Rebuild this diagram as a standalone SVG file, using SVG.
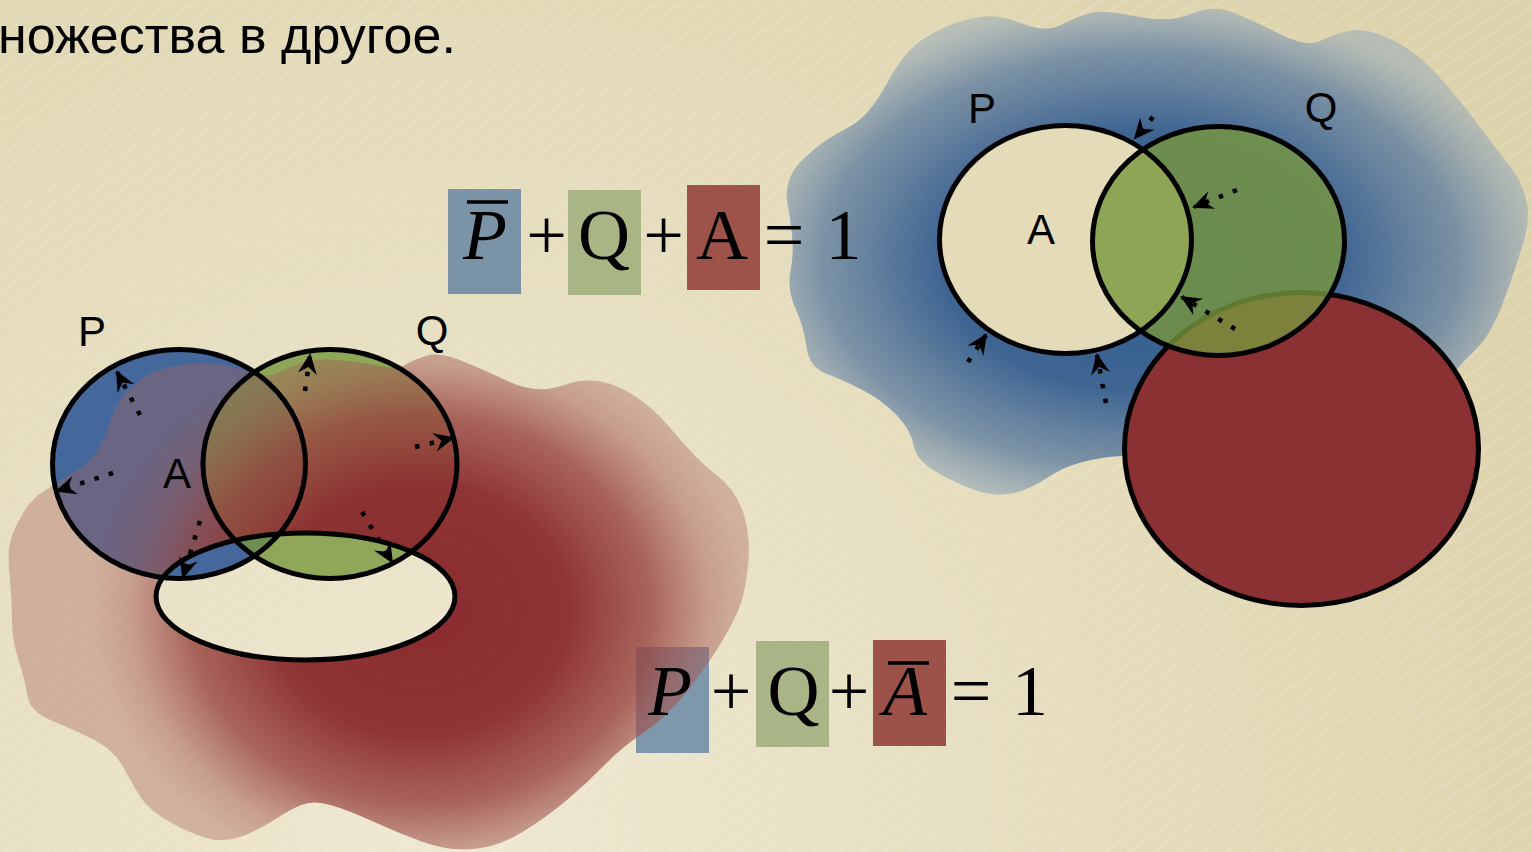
<svg xmlns="http://www.w3.org/2000/svg" width="1532" height="852" viewBox="0 0 1532 852">
  <defs>
    <style>
      .outline { fill: none; stroke: #000; stroke-width: 5; }
      .dots { fill: none; stroke: #000; stroke-width: 4.5; stroke-dasharray: 4.5 10.5; }
      .lbl { font-family: "Liberation Sans", Arial, sans-serif; font-size: 42px; fill: #000; text-anchor: middle; }
      .math { font-family: "Liberation Serif", "Times New Roman", serif; font-size: 72px; fill: #000; text-anchor: middle; }
      .it { font-style: italic; }
      .bar { stroke: #000; stroke-width: 3.5; }
      .green { fill: #78973d; fill-opacity: 0.8; }
    </style>
    <radialGradient id="bgGrad" gradientUnits="userSpaceOnUse" cx="450" cy="820" r="1250">
      <stop offset="0" stop-color="#eee8d2"/>
      <stop offset="0.5" stop-color="#e5ddbd"/>
      <stop offset="1" stop-color="#dcd2ab"/>
    </radialGradient>
    <pattern id="streaks" patternUnits="userSpaceOnUse" width="14" height="14" patternTransform="rotate(-35)">
      <rect x="0" y="0" width="14" height="3" fill="#ffffff" fill-opacity="0.10"/>
    </pattern>
    <radialGradient id="redGrad" gradientUnits="userSpaceOnUse" cx="0" cy="0" r="1" gradientTransform="translate(420 610) scale(330 280)">
      <stop offset="0" stop-color="#8a2b2e" stop-opacity="1"/>
      <stop offset="0.45" stop-color="#8c2f31" stop-opacity="0.97"/>
      <stop offset="0.7" stop-color="#98443f" stop-opacity="0.8"/>
      <stop offset="0.88" stop-color="#a45a54" stop-opacity="0.5"/>
      <stop offset="1" stop-color="#a8615b" stop-opacity="0.38"/>
    </radialGradient>
    <radialGradient id="blueGrad" gradientUnits="userSpaceOnUse" cx="0" cy="0" r="1" gradientTransform="translate(1140 260) scale(400 260)">
      <stop offset="0" stop-color="#2f5b92" stop-opacity="1"/>
      <stop offset="0.5" stop-color="#365f90" stop-opacity="0.95"/>
      <stop offset="0.8" stop-color="#5a7a9e" stop-opacity="0.75"/>
      <stop offset="1" stop-color="#98abba" stop-opacity="0.55"/>
    </radialGradient>
    <mask id="holeMask" maskUnits="userSpaceOnUse" x="0" y="0" width="1532" height="852">
      <rect x="0" y="0" width="1532" height="852" fill="#fff"/>
      <ellipse cx="305.5" cy="596.5" rx="149.5" ry="63.5" fill="#000"/>
    </mask>
    <marker id="ah" viewBox="-22 -11 25 22" refX="0" refY="0" markerWidth="25" markerHeight="22" markerUnits="userSpaceOnUse" orient="auto">
      <path d="M2,0 L-19,-9.5 L-12,0 L-19,9.5 Z" fill="#000"/>
    </marker>
  </defs>

  <!-- background -->
  <rect x="0" y="0" width="1532" height="852" fill="url(#bgGrad)"/>
  <rect x="0" y="0" width="1532" height="852" fill="url(#streaks)"/>

  <text x="-2" y="53" font-family="'Liberation Sans', Arial, sans-serif" font-size="52" fill="#000">ножества в другое.</text>

  <!-- bottom formula boxes (under the red area) -->
  <g id="formula-bottom-boxes">
    <rect x="636" y="647" width="73" height="106" fill="#7f97aa"/>
    <rect x="756" y="641" width="73" height="106" fill="#a9b586"/>
    <rect x="873" y="640" width="73" height="106" fill="#9c5149"/>
  </g>

  <!-- left diagram -->
  <g id="left-diagram">
    <g id="left-P-fill"><ellipse cx="179" cy="464" rx="126.5" ry="114.5" fill="#44689b"/></g>
    <g id="left-Q-fill"><ellipse class="green" cx="330" cy="464" rx="127" ry="114.5"/></g>
    <path id="red-blob" mask="url(#holeMask)" fill="url(#redGrad)" d="M 20,518.5 Q 30,500 43.5,491.5 Q 57,483 75,471.5 Q 93,460 100,446.5 Q 107,433 112,416.5 Q 117,400 132,386.5 Q 147,373 162,369 Q 177,365 192,363.5 Q 207,362 221,364.5 Q 235,367 251,372.5 Q 267,378 278.5,372.5 Q 290,367 303.5,362.5 Q 317,358 342,360.5 Q 367,363 382,366.5 Q 397,370 405,365 Q 413,360 425.5,356 Q 438,352 458,359.5 Q 478,367 507.5,381 Q 537,395 564.5,385 Q 592,375 619.5,387.5 Q 647,400 672,430 Q 697,460 716.5,475 Q 736,490 743.5,513.5 Q 751,537 748,566 Q 745,595 738,611 Q 731,627 718.5,647 Q 706,667 686.5,692 Q 667,717 644.5,732 Q 622,747 604.5,765 Q 587,783 567,800 Q 547,817 522.5,832 Q 498,847 473,849 Q 448,851 423,842 Q 398,833 373,821.5 Q 348,810 330.5,805 Q 313,800 301,805 Q 289,810 274,820 Q 259,830 241.5,836.5 Q 224,843 206.5,838 Q 189,833 169,821.5 Q 149,810 141.5,798.5 Q 134,787 124,768.5 Q 114,750 94.5,740 Q 75,730 52.5,721 Q 30,712 27.5,696 Q 25,680 18.5,660 Q 12,640 12,620 Q 12,600 10,580 Q 8,560 9,548.5 Q 10,537 20,518.5 Z"/>
    <g id="left-P"><ellipse class="outline" cx="179" cy="464" rx="126.5" ry="114.5"/><text class="lbl" x="92" y="346">P</text></g>
    <g id="left-Q"><ellipse class="outline" cx="330" cy="464" rx="127" ry="114.5"/><text class="lbl" x="432" y="345">Q</text></g>
    <g id="left-A"><ellipse class="outline" cx="305.5" cy="596.5" rx="149.5" ry="63.5"/><text class="lbl" x="177" y="488">A</text></g>
    <g id="left-connectors">
      <path class="dots" marker-end="url(#ah)" d="M140,415 L117,372"/>
      <path class="dots" marker-end="url(#ah)" d="M113,473 L57,491"/>
      <path class="dots" marker-end="url(#ah)" d="M200,521 L183,577"/>
      <path class="dots" marker-end="url(#ah)" d="M305,391 L310,355"/>
      <path class="dots" marker-end="url(#ah)" d="M415,447 L453,438"/>
      <path class="dots" marker-end="url(#ah)" d="M362,512 L392,562"/>
    </g>
  </g>

  <!-- bottom formula text -->
  <g id="formula-bottom">
    <text class="math it" x="670" y="715">P</text>
    <text class="math" x="731" y="715">+</text>
    <text class="math" x="793.5" y="715">Q</text>
    <text class="math" x="849" y="715">+</text>
    <text class="math it" x="905" y="715">A</text>
    <line class="bar" x1="888" y1="663" x2="929" y2="663"/>
    <text class="math" x="971" y="715">=</text>
    <text class="math" x="1030" y="715">1</text>
  </g>

  <!-- right diagram -->
  <g id="right-diagram">
    <path id="blue-blob" fill="url(#blueGrad)" d="M 868,111.5 Q 878,100 888,81.5 Q 898,63 910,50 Q 922,37 944.5,27.5 Q 967,18 984,16.5 Q 1001,15 1023.5,24 Q 1046,33 1063,24 Q 1080,15 1092.5,12.5 Q 1105,10 1137,16.5 Q 1169,23 1191,14 Q 1213,5 1230.5,11.5 Q 1248,18 1277.5,33 Q 1307,48 1321.5,40.5 Q 1336,33 1351,30.5 Q 1366,28 1390.5,39 Q 1415,50 1437.5,75 Q 1460,100 1478.5,125 Q 1497,150 1509,165 Q 1521,180 1526,198.5 Q 1531,217 1523.5,242 Q 1516,267 1504,300 Q 1492,333 1477.5,347.5 Q 1463,362 1446.5,381 Q 1430,400 1365,410 Q 1300,420 1220,437.5 Q 1140,455 1121,456 Q 1102,457 1082.5,462 Q 1063,467 1046,478.5 Q 1029,490 1011.5,493.5 Q 994,497 974.5,490 Q 955,483 935.5,471.5 Q 916,460 913.5,445 Q 911,430 896.5,415 Q 882,400 862.5,390 Q 843,380 826,373.5 Q 809,367 806.5,347 Q 804,327 795.5,308.5 Q 787,290 790.5,271.5 Q 794,253 792,235 Q 790,217 787.5,203.5 Q 785,190 790,177.5 Q 795,165 812,151 Q 829,137 843.5,130 Q 858,123 868,111.5 Z"/>
    <g id="right-red"><ellipse cx="1301.5" cy="449" rx="177" ry="156.5" fill="#8b3033" stroke="#000" stroke-width="5"/></g>
    <g id="right-P-fill"><ellipse cx="1065.5" cy="239.5" rx="126" ry="114" fill="#e4dbb8"/></g>
    <g id="right-Q-fill"><ellipse class="green" cx="1218.5" cy="241" rx="126" ry="114.5"/></g>
    <g id="right-P"><ellipse class="outline" cx="1065.5" cy="239.5" rx="126" ry="114"/><text class="lbl" x="982" y="123">P</text><text class="lbl" x="1041" y="244">A</text></g>
    <g id="right-Q"><ellipse class="outline" cx="1218.5" cy="241" rx="126" ry="114.5"/><text class="lbl" x="1321" y="122">Q</text></g>
    <g id="right-connectors">
      <path class="dots" marker-end="url(#ah)" d="M1153,117 L1135,138"/>
      <path class="dots" marker-end="url(#ah)" d="M1237,190 L1194,207"/>
      <path class="dots" marker-end="url(#ah)" d="M1235,329 L1182,297"/>
      <path class="dots" marker-end="url(#ah)" d="M968,362 L986,335"/>
      <path class="dots" marker-end="url(#ah)" d="M1106,403 L1097,355"/>
    </g>
  </g>

  <!-- top formula -->
  <g id="formula-top">
    <rect x="448" y="189" width="73" height="105" fill="#7b93a7"/>
    <rect x="568" y="190" width="73" height="105" fill="#aab585"/>
    <rect x="687" y="185" width="73" height="105" fill="#9d524a"/>
    <text class="math it" x="485" y="259">P</text>
    <line class="bar" x1="467" y1="202" x2="508" y2="202"/>
    <text class="math" x="546.5" y="259">+</text>
    <text class="math" x="604" y="259">Q</text>
    <text class="math" x="663.5" y="259">+</text>
    <text class="math" x="722" y="259">A</text>
    <text class="math" x="784" y="259">=</text>
    <text class="math" x="843.5" y="259">1</text>
  </g>
</svg>
